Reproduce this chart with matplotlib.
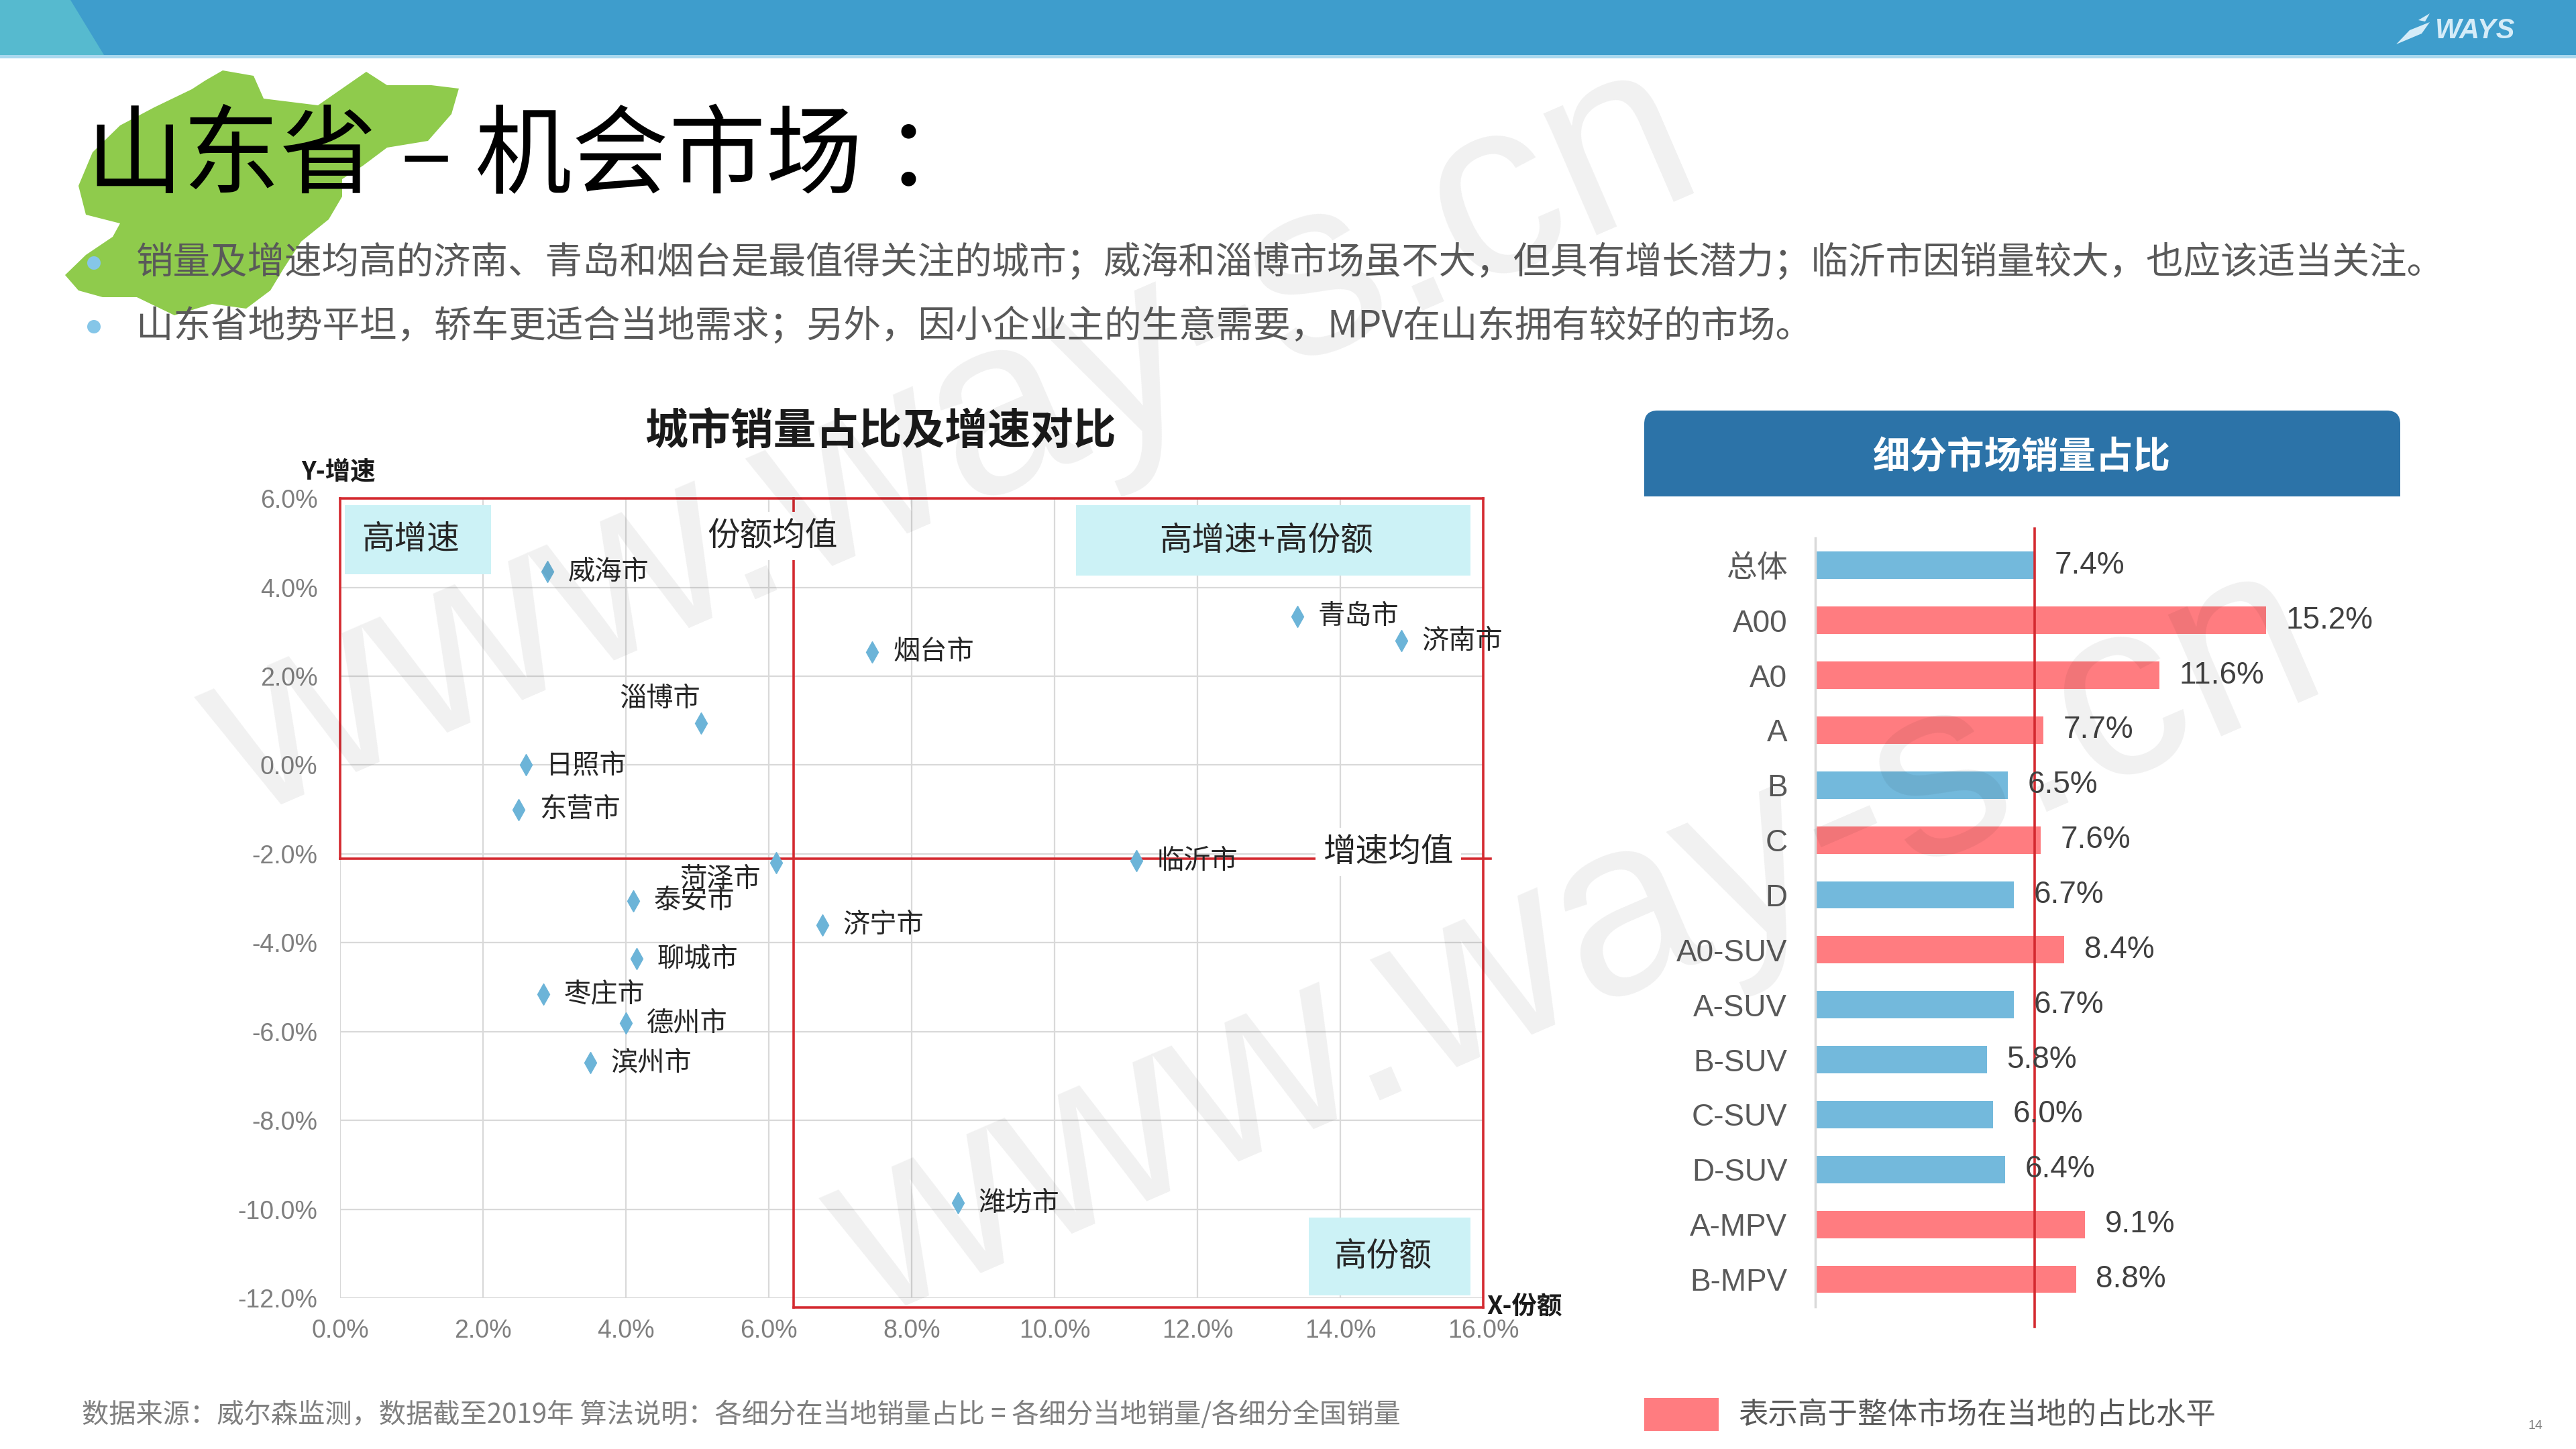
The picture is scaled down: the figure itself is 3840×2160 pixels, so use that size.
import matplotlib
matplotlib.use('Agg')
import matplotlib.pyplot as plt
from matplotlib.patches import Rectangle, Polygon, Circle, FancyBboxPatch
from matplotlib.ticker import FuncFormatter

plt.rcParams['font.family'] = ['Noto Sans CJK SC', 'DejaVu Sans']

# City share of sales (X) vs. growth (Y), in %
cities = ['威海市', '青岛市', '济南市', '烟台市', '淄博市', '日照市', '东营市',
          '菏泽市', '临沂市', '泰安市', '济宁市', '聊城市', '枣庄市', '德州市',
          '滨州市', '潍坊市']
share = [2.9, 13.4, 14.85, 7.45, 5.05, 2.6, 2.5,
         6.1, 11.15, 4.1, 6.75, 4.15, 2.85, 4.0,
         3.5, 8.65]
growth = [4.35, 3.35, 2.8, 2.55, 0.95, 0.0, -1.0,
          -2.2, -2.15, -3.05, -3.6, -4.35, -5.15, -5.8,
          -6.7, -9.85]
share_mean = 6.35
growth_mean = -2.1
x_ticks = [0, 2, 4, 6, 8, 10, 12, 14, 16]
y_ticks = [-12, -10, -8, -6, -4, -2, 0, 2, 4, 6]

# Segment share of local sales, in %
segments = ['总体', 'A00', 'A0', 'A', 'B', 'C', 'D', 'A0-SUV', 'A-SUV',
            'B-SUV', 'C-SUV', 'D-SUV', 'A-MPV', 'B-MPV']
seg_share = [7.4, 15.2, 11.6, 7.7, 6.5, 7.6, 6.7, 8.4, 6.7,
             5.8, 6.0, 6.4, 9.1, 8.8]
overall = seg_share[0]

title_left = '山东省'
title_dash = '–'
title_right = '机会市场 ：'
bullets = ['销量及增速均高的济南、青岛和烟台是最值得关注的城市；威海和淄博市场虽不大，'
           '但具有增长潜力；临沂市因销量较大，也应该适当关注。',
           '山东省地势平坦，轿车更适合当地需求；另外，因小企业主的生意需要，'
           'MPV在山东拥有较好的市场。']
footnote = ('数据来源：威尔森监测，数据截至2019年 算法说明：各细分在当地销量占比 = '
            '各细分当地销量/各细分全国销量')
legend_text = '表示高于整体市场在当地的占比水平'

RED = '#D42A30'
BLUE_PT = '#6CB4D8'
BAR_BLUE = '#73B9DC'
BAR_RED = '#FF7C80'
BOX = '#CCF2F6'
LATIN = ['Liberation Sans', 'Noto Sans CJK SC']

# label offsets (points) for cities whose label is not to the right
label_offsets = {'淄博市': (-44, 26, 'center'), '菏泽市': (-60, -17, 'center')}

fig = plt.figure(figsize=(38.4, 21.6), dpi=100)

# Background layer in pixel coordinates
bg = fig.add_axes([0, 0, 1, 1])
bg.set_xlim(0, 3840)
bg.set_ylim(2160, 0)
bg.axis('off')

# Header bar
bg.add_patch(Rectangle((0, 0), 3840, 82, color='#3E9DCC', lw=0))
bg.add_patch(Polygon([(0, 0), (105, 0), (155, 82), (0, 82)],
                     color='#56BACF', lw=0))
bg.add_patch(Rectangle((0, 82), 3840, 5, color='#A9D8EE', lw=0))
bg.add_patch(Polygon([(3572, 66), (3592, 45), (3622, 33), (3610, 50)],
                     color='#D5ECF8', lw=0))
bg.add_patch(Polygon([(3605, 30), (3622, 20), (3615, 32)],
                     color='#D5ECF8', lw=0))
bg.text(3690, 46, 'WAYS', color='#D5ECF8', fontsize=30, fontweight='bold',
        style='italic', ha='center', va='center', family=LATIN)

# Green Shandong shape behind the title
shandong = [(332, 105), (378, 113), (393, 147), (474, 157), (546, 107),
            (577, 127), (643, 127), (684, 132), (673, 170), (638, 210),
            (577, 220), (541, 247), (510, 267), (510, 293), (490, 327),
            (449, 360), (423, 400), (403, 433), (367, 460), (316, 453),
            (260, 470), (204, 443), (153, 443), (117, 433), (97, 410),
            (128, 380), (168, 353), (179, 333), (128, 320), (117, 277),
            (138, 227), (179, 187), (230, 160), (286, 133), (306, 120)]
bg.add_patch(Polygon(shandong, color='#8FCB4C', lw=0))

# Title in three pieces so the dash spacing matches
bg.text(128, 236, title_left, fontsize=104, ha='left', va='center',
        color='black')
bg.text(635, 236, title_dash, fontsize=104, ha='center', va='center',
        color='black')
bg.text(708, 236, title_right, fontsize=104, ha='left', va='center',
        color='black')

for i, line in enumerate(bullets):
    y = 392 + i * 95
    bg.add_patch(Circle((140, y), 10, color='#85C6E8', lw=0))
    bg.text(203, y, line, fontsize=40, ha='left', va='center',
            color='#595959')

# Scatter chart
bg.text(1313, 644, '城市销量占比及增速对比', fontsize=46, fontweight='bold',
        ha='center', va='center', color='#1A1A1A')
bg.text(505, 703, 'Y-增速', fontsize=27, fontweight='bold', ha='center',
        va='center', color='#1A1A1A')
bg.text(2273, 1947, 'X-份额', fontsize=27, fontweight='bold', ha='center',
        va='center', color='#1A1A1A')

ax = fig.add_axes([0.1320, 0.104, 0.4438, 0.552])
ax.set_xlim(0, 16)
ax.set_ylim(-12, 6)
ax.set_xticks(x_ticks)
ax.set_yticks(y_ticks)
pct = FuncFormatter(lambda v, p: f'{v:.1f}%')
ax.xaxis.set_major_formatter(pct)
ax.yaxis.set_major_formatter(pct)
ax.grid(True, color='#D9D9D9', lw=1.6)
ax.set_axisbelow(True)
for s in ax.spines.values():
    s.set_visible(False)
ax.tick_params(length=0, labelsize=27, labelcolor='#7F7F7F')
ax.tick_params(axis='x', pad=22)
ax.tick_params(axis='y', pad=24)
for lab in ax.get_xticklabels() + ax.get_yticklabels():
    lab.set_family(LATIN)
ax.patch.set_alpha(0)

# Quadrant frame
bottom_edge = -12.2
frame = [([0, 16], [6, 6]),
         ([0, 0], [growth_mean, 6]),
         ([16, 16], [bottom_edge, 6]),
         ([0, 16.1], [growth_mean, growth_mean]),
         ([share_mean, share_mean], [bottom_edge, 6]),
         ([share_mean, 16], [bottom_edge, bottom_edge])]
for xs, ys in frame:
    ax.plot(xs, ys, color=RED, lw=2.6, clip_on=False, zorder=2)

quad_boxes = [('高增速', 0.07, 4.3, 2.04, 1.55),
              ('高增速+高份额', 10.3, 4.26, 5.52, 1.59),
              ('高份额', 13.56, -11.93, 2.26, 1.74)]
for text, x0, y0, w, h in quad_boxes:
    ax.add_patch(Rectangle((x0, y0), w, h, color=BOX, lw=0, zorder=3))
    ax.text(x0 + w / 2 - 0.1, y0 + h / 2, text, fontsize=35, ha='center',
            va='center', color='#262626', zorder=4)

for text, x, y in [('份额均值', share_mean - 0.3, 5.15),
                   ('增速均值', 14.67, -1.96)]:
    ax.text(x, y, text, fontsize=35, ha='center', va='center',
            color='#262626', zorder=4,
            bbox=dict(facecolor='white', edgecolor='none', pad=8))

ax.plot(share, growth, 'd', color=BLUE_PT, ms=16, ls='none', zorder=5)
for name, x, y in zip(cities, share, growth):
    dx, dy, ha = label_offsets.get(name, (22, 0, 'left'))
    ax.annotate(name, (x, y), xytext=(dx, dy), textcoords='offset points',
                ha=ha, va='center', fontsize=29, color='#262626', zorder=6)

# Segment bar chart
bg.add_patch(FancyBboxPatch((2451, 612), 1127, 128,
                            boxstyle='round,pad=0,rounding_size=20',
                            color='#2C73A8', lw=0))
bg.add_patch(Rectangle((2451, 680), 1127, 60, color='#2C73A8', lw=0))
bg.text(3014, 682, '细分市场销量占比', fontsize=40, fontweight='bold',
        ha='center', va='center', color='white')

bax = fig.add_axes([0.7047, 0.0982, 0.1842, 0.5305])
n = len(segments)
colors = [BAR_RED if v > overall else BAR_BLUE for v in seg_share]
bax.barh(range(n), seg_share, height=0.5, color=colors, zorder=2)
bax.set_ylim(n - 0.5, -0.5)
bax.set_xlim(0, 16)
bax.set_xticks([])
bax.set_yticks(range(n))
bax.set_yticklabels(segments, family=LATIN)
bax.tick_params(length=0, labelsize=33, labelcolor='#595959', pad=30)
for side in ['top', 'right', 'bottom']:
    bax.spines[side].set_visible(False)
bax.spines['left'].set_color('#D9D9D9')
bax.spines['left'].set_linewidth(2.5)
bax.patch.set_alpha(0)
bax.plot([overall, overall], [-0.67, n - 1 + 0.87], color=RED, lw=2.6,
         clip_on=False, zorder=3)
for i, v in enumerate(seg_share):
    bax.annotate(f'{v:.1f}%', (v, i), xytext=(21, 0),
                 textcoords='offset points', ha='left', va='center',
                 fontsize=33, color='#404040', family=LATIN, zorder=4)

# Legend and footnote
bg.add_patch(Rectangle((2451, 2084), 111, 49, color=BAR_RED, lw=0))
bg.text(2591, 2109, legend_text, fontsize=32, ha='left', va='center',
        color='#595959')
bg.text(122, 2109, footnote, fontsize=29, ha='left', va='center',
        color='#7F7F7F')
bg.text(3779, 2126, '14', fontsize=14, ha='center', va='center',
        color='#7F7F7F', family=LATIN)

# Watermarks
for cx, cy in [(1420, 661), (2351, 1408)]:
    fig.text(cx / 3840, 1 - cy / 2160, 'www.way-s.cn', fontsize=270,
             family=LATIN, color='black', alpha=0.06, rotation=23.4,
             rotation_mode='anchor', ha='center', va='center')

fig.savefig('out.png', dpi=100)
